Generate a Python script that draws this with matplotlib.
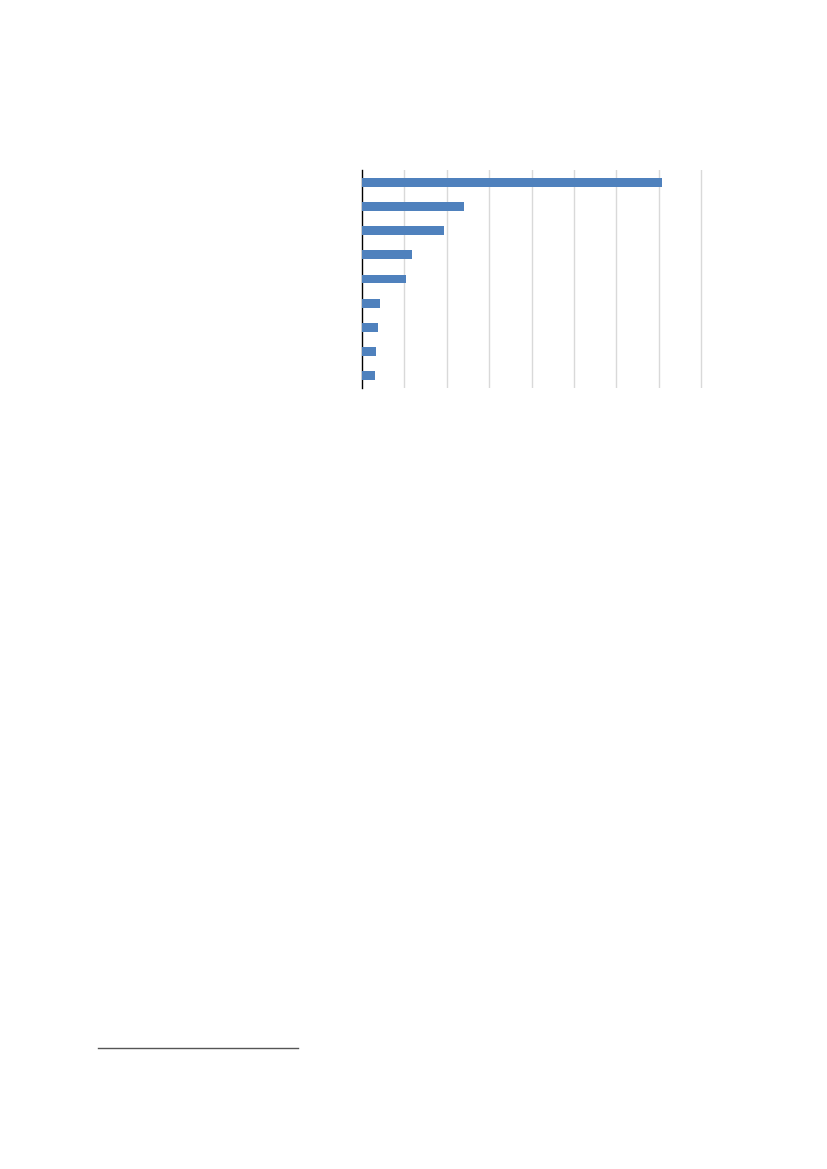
import matplotlib.pyplot as plt
from matplotlib.lines import Line2D

# bar values, top to bottom (labels are not visible in the reference)
values = [7.07, 2.41, 1.93, 1.19, 1.05, 0.43, 0.38, 0.33, 0.30]
grid_ticks = [1, 2, 3, 4, 5, 6, 7, 8]

fig = plt.figure(figsize=(8.27, 11.69), dpi=100)
ax = fig.add_axes([362 / 827, 1 - 388 / 1169, 339 * 8.05 / 8 / 827, 218 / 1169])

ypos = list(range(len(values)))
ax.barh(ypos, values, height=0.37, color='#4F81BD', zorder=3)
ax.set_ylim(len(values) - 0.5, -0.5)
ax.set_xlim(0, 8.05)

ax.set_xticks(grid_ticks)
ax.set_xticklabels([])
ax.set_yticks([])
ax.tick_params(axis='x', length=0)
ax.grid(axis='x', color='#D9D9D9', linewidth=1, zorder=0)

for side in ['top', 'right', 'bottom']:
    ax.spines[side].set_visible(False)
ax.spines['left'].set_color('black')
ax.spines['left'].set_linewidth(1)

# footnote separator line
fig.add_artist(Line2D([98 / 827, 298 / 827], [1 - 1048 / 1169, 1 - 1048 / 1169],
                      color='#555555', linewidth=1))

fig.savefig('out.png', dpi=100)
